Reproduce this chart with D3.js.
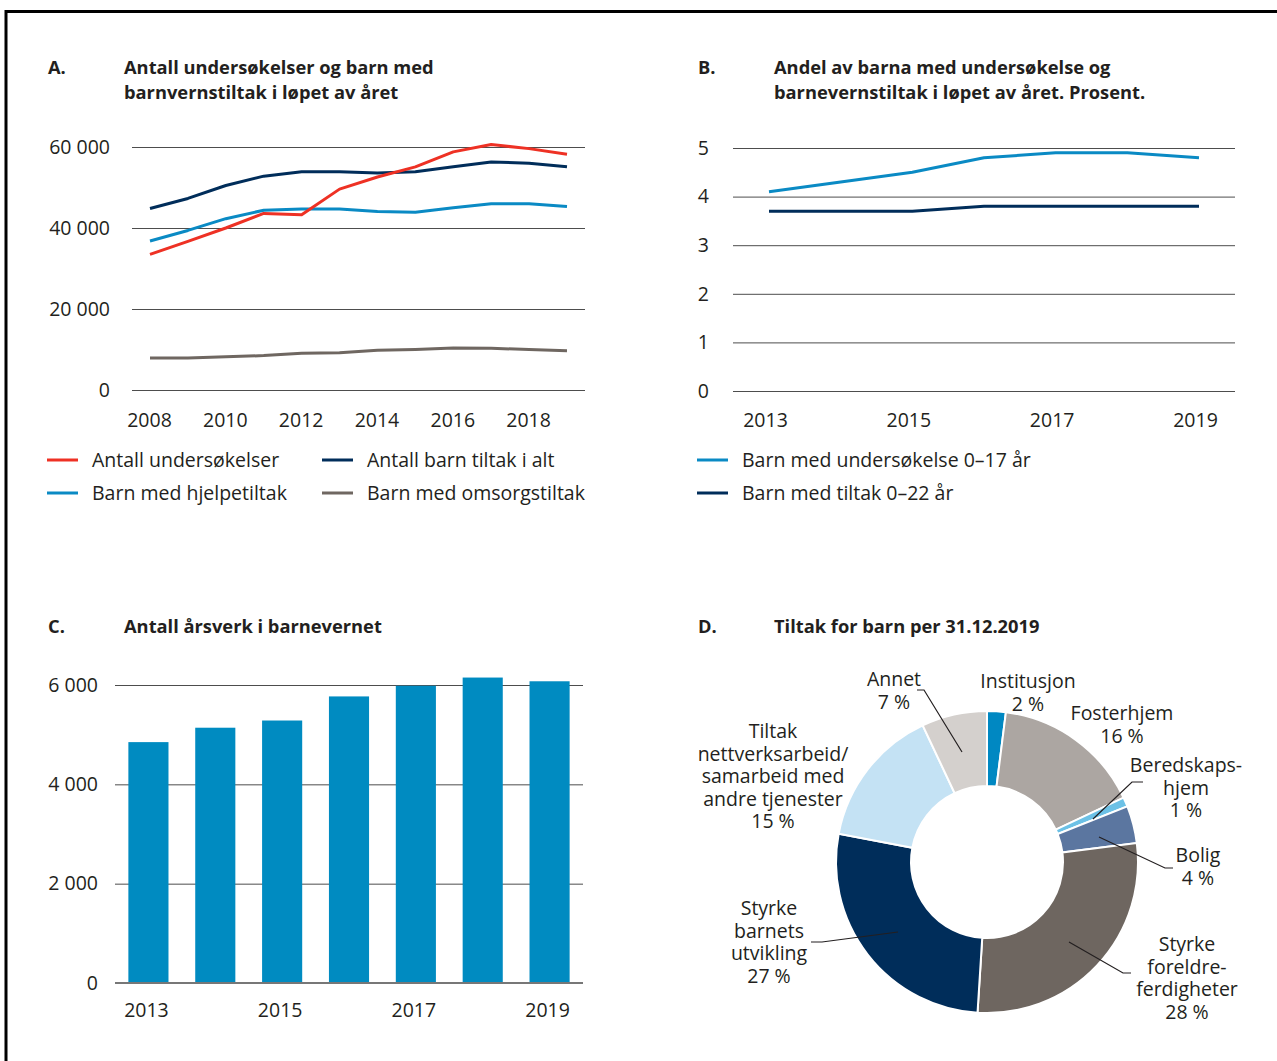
<!DOCTYPE html>
<html>
<head>
<meta charset="utf-8">
<script src="https://cdn.jsdelivr.net/npm/d3@7"></script>
<style>
  html, body { margin: 0; padding: 0; background: #fff; }
  svg { display: block; font-family: "Open Sans", sans-serif; }
  .tick text { fill: #231f20; }
</style>
</head>
<body>
<svg id="chart" width="1277" height="1061"></svg>
<script>
// ---- Panel A: investigations and children with child-welfare measures ----
const yearsA = [2008, 2009, 2010, 2011, 2012, 2013, 2014, 2015, 2016, 2017, 2018, 2019];
const undersokelser = [33500, 36700, 40000, 43600, 43300, 49600, 52600, 55100, 58800, 60600, 59600, 58200];
const tiltakIAlt    = [44800, 47300, 50500, 52800, 53900, 53900, 53600, 53900, 55100, 56300, 56000, 55100];
const hjelpetiltak  = [36800, 39400, 42300, 44400, 44700, 44700, 44100, 43900, 45000, 46000, 46000, 45300];
const omsorgstiltak = [7900, 7900, 8200, 8500, 9100, 9200, 9800, 10000, 10400, 10300, 10000, 9700];
const ticksAX = [2008, 2010, 2012, 2014, 2016, 2018];
const ticksAY = [0, 20000, 40000, 60000];
const seriesANames = ["Antall undersøkelser", "Antall barn tiltak i alt", "Barn med hjelpetiltak", "Barn med omsorgstiltak"];

// ---- Panel B: share of children, per cent ----
const yearsB = [2013, 2014, 2015, 2016, 2017, 2018, 2019];
const andelUndersokelse = [4.1, 4.3, 4.5, 4.8, 4.9, 4.9, 4.8];
const andelTiltak       = [3.7, 3.7, 3.7, 3.8, 3.8, 3.8, 3.8];
const ticksBX = [2013, 2015, 2017, 2019];
const ticksBY = [0, 1, 2, 3, 4, 5];
const seriesBNames = ["Barn med undersøkelse 0–17 år", "Barn med tiltak 0–22 år"];

// ---- Panel C: man-years in child welfare ----
const yearsC = [2013, 2014, 2015, 2016, 2017, 2018, 2019];
const arsverk = [4850, 5140, 5285, 5770, 5985, 6150, 6075];
const ticksCX = [2013, 2015, 2017, 2019];
const ticksCY = [0, 2000, 4000, 6000];

// ---- Panel D: measures for children per 31.12.2019 ----
const tiltakNavn = ["Institusjon", "Fosterhjem", "Beredskapshjem", "Bolig",
  "Styrke foreldreferdigheter", "Styrke barnets utvikling", "Tiltak nettverksarbeid", "Annet"];
const tiltakAndel = [2, 16, 1, 4, 28, 27, 15, 7];

const C = {
  red: "#ee3124", navy: "#002d5a", blue: "#0a8ac4", gray: "#6f6761",
  text: "#231f20", grid: "#4d4d4d"
};
const FS = 19.5;
const fmt = d => d3.format(",")(d).replace(/,/g, " ");

const svg = d3.select("#chart");

// outer frame
svg.append("path").attr("d", "M6,1061 V11.5 H1277").attr("fill", "none")
  .attr("stroke", "#000").attr("stroke-width", 3);

function title(x, y, letter, lines) {
  const g = svg.append("g").attr("font-weight", 700).attr("font-size", 18.3).attr("fill", C.text);
  g.append("text").attr("x", x).attr("y", y).text(letter);
  lines.forEach((l, i) => g.append("text").attr("x", x + 76).attr("y", y + i * 25).text(l));
}

function gridAxis(scale, ticks, x0, x1, fmtFn, labelX) {
  const g = svg.append("g").attr("transform", `translate(${x1},0)`)
    .call(d3.axisLeft(scale).tickValues(ticks).tickSize(x1 - x0).tickFormat(fmtFn).tickPadding(x0 - labelX));
  g.select(".domain").remove();
  g.selectAll(".tick line").attr("stroke", C.grid).attr("stroke-width", 1);
  g.selectAll(".tick text").attr("font-size", FS).attr("font-family", "Open Sans").attr("dy", "0.32em");
  return g;
}

function xAxis(scale, ticks, y, dx) {
  const g = svg.append("g").attr("transform", `translate(0,${y})`)
    .call(d3.axisBottom(scale).tickValues(ticks).tickSize(0).tickFormat(d3.format("d")));
  g.select(".domain").remove();
  g.selectAll(".tick text").attr("font-size", FS).attr("font-family", "Open Sans")
    .attr("dy", 0).attr("dx", dx || 0);
  return g;
}

function legendItem(x, y, color, label) {
  svg.append("line").attr("x1", x).attr("x2", x + 31).attr("y1", y).attr("y2", y)
    .attr("stroke", color).attr("stroke-width", 3);
  svg.append("text").attr("x", x + 45).attr("y", y).attr("dy", "0.35em")
    .attr("font-size", FS).attr("fill", C.text).text(label);
}

// ================= Panel A =================
title(48, 74, "A.", ["Antall undersøkelser og barn med", "barnvernstiltak i løpet av året"]);
const xA = d3.scaleLinear().domain([2008, 2019]).range([150, 567]);
const yA = d3.scaleLinear().domain([0, 60000]).range([390, 147]);
gridAxis(yA, ticksAY, 132, 585, fmt, 110);
xAxis(xA, ticksAX, 424, -1);
const lineA = d3.line().x((d, i) => xA(yearsA[i])).y(d => yA(d));
[[omsorgstiltak, C.gray], [hjelpetiltak, C.blue], [tiltakIAlt, C.navy], [undersokelser, C.red]]
  .forEach(([vals, col]) => svg.append("path").datum(vals).attr("d", lineA)
    .attr("fill", "none").attr("stroke", col).attr("stroke-width", 3).attr("stroke-linejoin", "round"));
legendItem(47, 460, C.red, seriesANames[0]);
legendItem(322, 460, C.navy, seriesANames[1]);
legendItem(47, 493, C.blue, seriesANames[2]);
legendItem(322, 493, C.gray, seriesANames[3]);

// ================= Panel B =================
title(698, 74, "B.", ["Andel av barna med undersøkelse og", "barnevernstiltak i løpet av året. Prosent."]);
const xB = d3.scaleLinear().domain([2013, 2019]).range([769, 1199]);
const yB = d3.scaleLinear().domain([0, 5]).range([391, 148]);
gridAxis(yB, ticksBY, 733, 1235, d3.format("d"), 709);
xAxis(xB, ticksBX, 424, -4);
const lineB = d3.line().x((d, i) => xB(yearsB[i])).y(d => yB(d));
[[andelTiltak, C.navy], [andelUndersokelse, C.blue]]
  .forEach(([vals, col]) => svg.append("path").datum(vals).attr("d", lineB)
    .attr("fill", "none").attr("stroke", col).attr("stroke-width", 3).attr("stroke-linejoin", "round"));
legendItem(697, 460, C.blue, seriesBNames[0]);
legendItem(697, 493, C.navy, seriesBNames[1]);

// ================= Panel C =================
title(48, 633, "C.", ["Antall årsverk i barnevernet"]);
const xC = d3.scaleBand().domain(yearsC).range([115, 583]).paddingInner(0.4).paddingOuter(0.2);
const yC = d3.scaleLinear().domain([0, 6000]).range([983, 685]);
gridAxis(yC, ticksCY, 115, 583, fmt, 98);
svg.append("g").selectAll("rect").data(arsverk).join("rect")
  .attr("x", (d, i) => xC(yearsC[i])).attr("width", xC.bandwidth())
  .attr("y", d => yC(d)).attr("height", d => yC(0) - yC(d))
  .attr("fill", "#008bc1");
svg.append("line").attr("x1", 115).attr("x2", 583).attr("y1", yC(0)).attr("y2", yC(0))
  .attr("stroke", "#777").attr("stroke-width", 2);
xAxis(xC, ticksCX, 1014, -2);

// ================= Panel D =================
title(698, 633, "D.", ["Tiltak for barn per 31.12.2019"]);
const colorsD = ["#0088c2", "#aca6a2", "#6cc1e6", "#5b76a0", "#6e6660", "#002d5a", "#c4e2f4", "#d4d0cd"];
const cx = 987, cy = 862, rOuter = 151, rInner = 76;
const pie = d3.pie().sort(null).value(d => d)(tiltakAndel);
const arc = d3.arc().innerRadius(rInner).outerRadius(rOuter);
const gD = svg.append("g").attr("transform", `translate(${cx},${cy})`);
gD.selectAll("path").data(pie).join("path")
  .attr("d", arc).attr("fill", (d, i) => colorsD[i])
  .attr("stroke", "#fff").attr("stroke-width", 2);

// labels: stacked lines centred on x, with an optional leader line
const labelsD = [
  { lines: ["Institusjon", `${tiltakAndel[0]} %`], x: 1028, y: 688 },
  { lines: ["Fosterhjem", `${tiltakAndel[1]} %`], x: 1122, y: 720 },
  { lines: ["Beredskaps-", "hjem", `${tiltakAndel[2]} %`], x: 1186, y: 772,
    leader: [[1143, 782], [1132, 782], [1093, 819]] },
  { lines: ["Bolig", `${tiltakAndel[3]} %`], x: 1198, y: 862,
    leader: [[1173, 868], [1165, 868], [1099, 837]] },
  { lines: ["Styrke", "foreldre-", "ferdigheter", `${tiltakAndel[4]} %`], x: 1187, y: 951,
    leader: [[1131, 973], [1123, 973], [1069, 942]] },
  { lines: ["Styrke", "barnets", "utvikling", `${tiltakAndel[5]} %`], x: 769, y: 915,
    leader: [[811, 942], [822, 942], [898, 932]] },
  { lines: ["Tiltak", "nettverksarbeid/", "samarbeid med", "andre tjenester", `${tiltakAndel[6]} %`], x: 773, y: 738 },
  { lines: ["Annet", `${tiltakAndel[7]} %`], x: 894, y: 686,
    leader: [[917, 690], [924, 690], [962, 752]] }
];
labelsD.forEach(l => {
  const t = svg.append("text").attr("text-anchor", "middle").attr("font-size", FS).attr("fill", C.text);
  l.lines.forEach((s, i) => t.append("tspan").attr("x", l.x).attr("y", l.y + i * 22.5).text(s));
  if (l.leader) {
    svg.append("path").attr("d", d3.line()(l.leader)).attr("fill", "none")
      .attr("stroke", C.text).attr("stroke-width", 1.2);
  }
});
</script>
</body>
</html>
